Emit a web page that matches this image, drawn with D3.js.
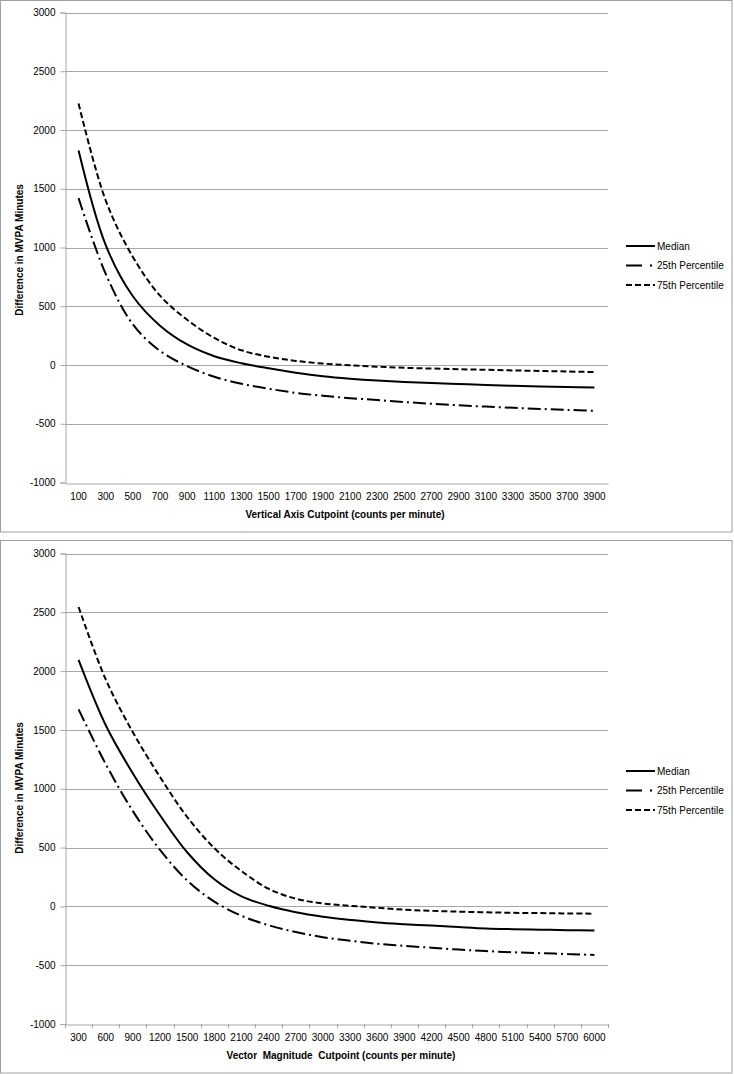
<!DOCTYPE html>
<html><head><meta charset="utf-8">
<script src="https://cdn.jsdelivr.net/npm/d3@7"></script>
<style>
body{margin:0;background:#fff;}
svg{display:block;}
text{font-family:"Liberation Sans",Arial,sans-serif;fill:#000;}
</style></head>
<body>
<script>
// ---- Data ----
const vaCategories = [100,300,500,700,900,1100,1300,1500,1700,1900,2100,2300,2500,2700,2900,3100,3300,3500,3700,3900];
const vaMedian = [1825,1020,585,335,175,75,15,-28,-65,-95,-116,-132,-144,-154,-162,-170,-177,-183,-188,-191];
const vaP25    = [1420,775,345,120,-10,-100,-160,-202,-237,-262,-282,-298,-315,-330,-343,-354,-364,-374,-382,-390];
const vaP75    = [2225,1400,920,590,385,230,125,70,35,12,-3,-14,-24,-30,-36,-41,-46,-51,-55,-60];

const vmCategories = [300,600,900,1200,1500,1800,2100,2400,2700,3000,3300,3600,3900,4200,4500,4800,5100,5400,5700,6000];
const vmMedian = [2095,1540,1130,775,460,230,85,5,-50,-88,-115,-138,-152,-163,-176,-188,-194,-198,-202,-205];
const vmP25    = [1675,1210,810,480,220,40,-80,-160,-218,-262,-292,-318,-335,-352,-367,-380,-390,-398,-405,-413];
const vmP75    = [2545,1930,1480,1100,760,495,300,150,65,25,5,-12,-28,-38,-45,-50,-55,-57,-60,-62];

const yTicks = [-1000,-500,0,500,1000,1500,2000,2500,3000];
const seriesNames = ["Median","25th Percentile","75th Percentile"];
const yTitle = "Difference in MVPA Minutes";

const W = 734, H = 1074;
const svg = d3.select("body").append("svg").attr("width", W).attr("height", H);

const dashes = [null, "13,4,2,4", "6,3"];

function drawChart(cfg) {
  const g = svg.append("g");
  g.append("rect").attr("x", 0.5).attr("y", cfg.boxTop + 0.5)
    .attr("width", 731.5).attr("height", cfg.boxH)
    .attr("fill", "none").attr("stroke", "#a0a0a0").attr("stroke-width", 1);

  const x = d3.scaleBand().domain(cfg.cats).range([65, 608]).padding(0);
  const y = d3.scaleLinear().domain([-1000, 3000]).range([cfg.yBottom, cfg.yTop]);
  const cx = c => x(c) + x.bandwidth() / 2;

  g.append("g").selectAll("line").data(yTicks.filter(t => t > -1000)).join("line")
    .attr("x1", 65).attr("x2", 608)
    .attr("y1", d => Math.round(y(d)) + 0.5).attr("y2", d => Math.round(y(d)) + 0.5)
    .attr("stroke", "#a6a6a6").attr("stroke-width", 1);

  const ya = g.append("g").attr("transform", "translate(65.5,0)")
    .call(d3.axisLeft(y).tickValues(yTicks).tickFormat(d => String(d)).tickSize(5).tickPadding(5));
  ya.select(".domain").attr("stroke", "#a6a6a6");
  ya.selectAll(".tick line").attr("stroke", "#a6a6a6");
  ya.selectAll("text").style("font-size", "10px").attr("fill", "#000")
    .style("font-family", '"Liberation Sans",Arial,sans-serif');

  const xa = g.append("g").attr("transform", `translate(0,${Math.round(cfg.yBottom) + 0.5})`)
    .call(d3.axisBottom(x).tickSize(0).tickPadding(9));
  xa.select(".domain").attr("stroke", "#a6a6a6");
  xa.selectAll("text").style("font-size", "10px").attr("fill", "#000")
    .style("font-family", '"Liberation Sans",Arial,sans-serif');
  if (cfg.xTicks) {
    const bounds = cfg.cats.map(c => x(c)).concat([608]);
    g.append("g").selectAll("line").data(bounds).join("line")
      .attr("x1", d => Math.round(d) + 0.5).attr("x2", d => Math.round(d) + 0.5)
      .attr("y1", Math.round(cfg.yBottom)).attr("y2", Math.round(cfg.yBottom) + 4)
      .attr("stroke", "#a6a6a6");
  }

  const line = d3.line().x((d, i) => cx(cfg.cats[i])).y(d => y(d))
    .curve(d3.curveCatmullRom.alpha(0.5));
  cfg.series.forEach((s, k) => {
    g.append("path").attr("d", line(s)).attr("fill", "none")
      .attr("stroke", "#000").attr("stroke-width", 2)
      .attr("stroke-dasharray", dashes[k]);
  });

  g.append("text").attr("x", cfg.xTitleX).attr("y", cfg.yBottom + 35)
    .attr("text-anchor", "middle").style("font-size", "10px").style("font-weight", "bold")
    .attr("xml:space", "preserve")
    .text(cfg.xTitle);
  g.append("text").attr("transform", `translate(23,${cfg.yTitleY}) rotate(-90)`)
    .attr("text-anchor", "middle").style("font-size", "10px").style("font-weight", "bold")
    .text(yTitle);

  seriesNames.forEach((n, k) => {
    const ly = cfg.legendY + k * 19.5;
    g.append("line").attr("x1", 626).attr("x2", 655).attr("y1", ly).attr("y2", ly)
      .attr("stroke", "#000").attr("stroke-width", 2).attr("stroke-dasharray", k === 1 ? "16,8,2,10" : dashes[k]);
    g.append("text").attr("x", 657).attr("y", ly + 3.5).style("font-size", "10px").text(n);
  });
}

drawChart({
  cats: vaCategories, series: [vaMedian, vaP25, vaP75],
  boxTop: 0, boxH: 531.5, yTop: 12.5, yBottom: 482.5, xTicks: false,
  xTitle: "Vertical Axis Cutpoint (counts per minute)", xTitleX: 345, yTitleY: 250, legendY: 246
});
drawChart({
  cats: vmCategories, series: [vmMedian, vmP25, vmP75],
  boxTop: 540, boxH: 532.5, yTop: 553.5, yBottom: 1024, xTicks: true,
  xTitle: "Vector  Magnitude  Cutpoint (counts per minute)", xTitleX: 341, yTitleY: 788, legendY: 771
});
</script>
</body></html>
